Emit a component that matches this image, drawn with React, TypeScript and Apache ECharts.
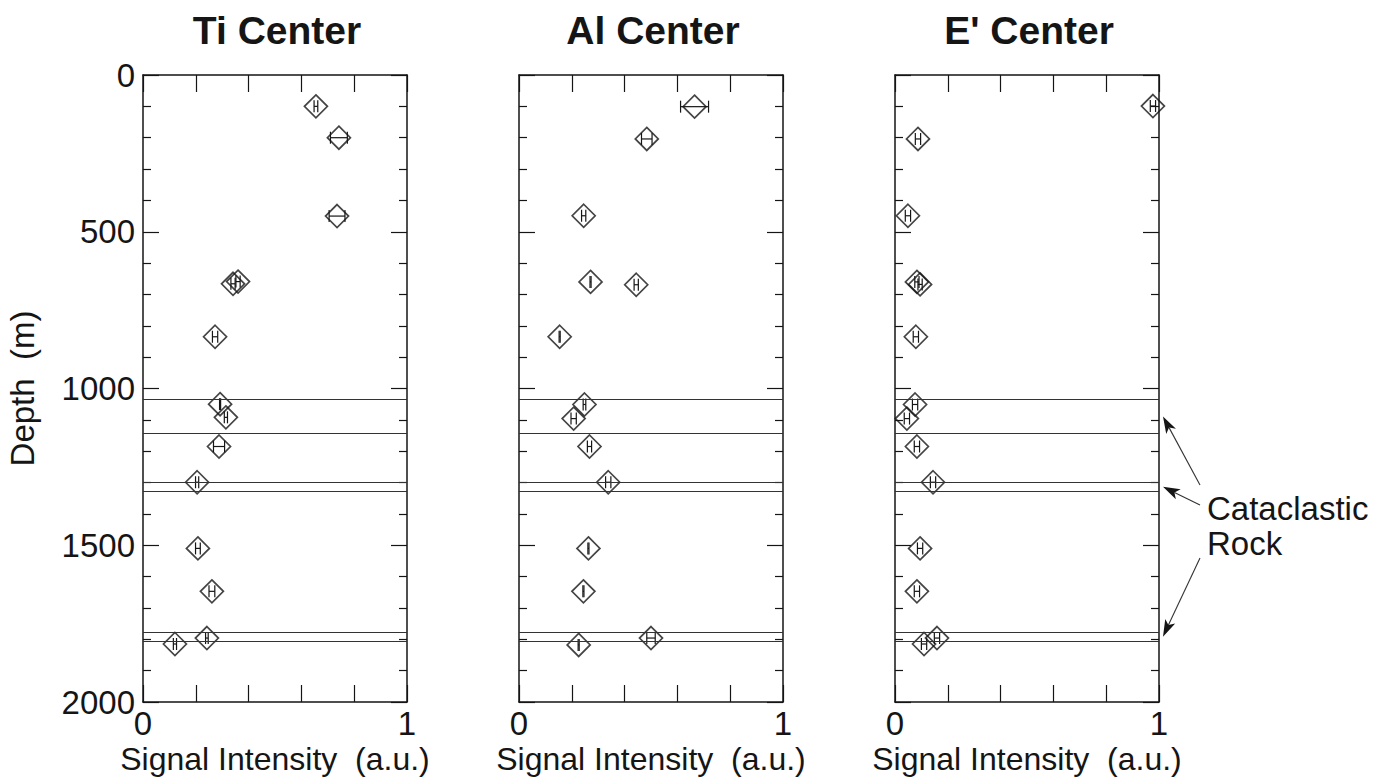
import React, { useEffect, useRef } from 'react';
import * as echarts from 'echarts';

const panelTitles = ['Ti Center', 'Al Center', "E' Center"];
const depthAxisTitle = 'Depth  (m)';
const signalAxisTitle = 'Signal Intensity  (a.u.)';
const annotationLines = ['Cataclastic', 'Rock'];

// Ti center
const tiDepth = [100, 200, 450, 659, 666, 835, 1050, 1092, 1185, 1299, 1510, 1647, 1796, 1815];
const tiSignal = [0.655, 0.742, 0.735, 0.36, 0.341, 0.273, 0.292, 0.314, 0.288, 0.205, 0.208, 0.261, 0.242, 0.121];
const tiError = [0.007, 0.032, 0.03, 0.008, 0.008, 0.01, 0.002, 0.006, 0.021, 0.006, 0.009, 0.011, 0.005, 0.006];

// Al center
const alDepth = [101, 204, 449, 660, 669, 835, 1051, 1096, 1185, 1299, 1510, 1647, 1796, 1818];
const alSignal = [0.665, 0.484, 0.245, 0.271, 0.444, 0.154, 0.248, 0.207, 0.267, 0.338, 0.263, 0.244, 0.5, 0.226];
const alError = [0.053, 0.02, 0.008, 0.002, 0.008, 0.002, 0.005, 0.01, 0.008, 0.01, 0.002, 0.002, 0.016, 0.002];

// E' center
const eDepth = [99, 204, 449, 660, 668, 835, 1051, 1096, 1185, 1299, 1510, 1647, 1796, 1815];
const eSignal = [0.977, 0.087, 0.049, 0.083, 0.095, 0.079, 0.076, 0.045, 0.083, 0.144, 0.095, 0.083, 0.159, 0.11];
const eError = [0.01, 0.01, 0.01, 0.008, 0.008, 0.01, 0.01, 0.01, 0.01, 0.01, 0.01, 0.01, 0.01, 0.01];

// cataclastic rock zones (depth m)
const zoneTop = [1035, 1299, 1777];
const zoneBottom = [1143, 1328, 1806];

const FONT = '"Liberation Sans", Arial, Helvetica, sans-serif';
const INK = '#151515';

const panels = [
  { depth: tiDepth, signal: tiSignal, err: tiError },
  { depth: alDepth, signal: alSignal, err: alError },
  { depth: eDepth, signal: eSignal, err: eError },
];

const gridLefts = [143, 519, 895];
const gridWidth = 264;
const gridTop = 75;
const gridHeight = 627;

export default function App() {
  const ref = useRef<HTMLDivElement>(null);
  useEffect(() => {
    document.documentElement.style.margin = '0';
    document.documentElement.style.overflow = 'hidden';
    document.body.style.margin = '0';
    document.body.style.overflow = 'hidden';
    const el = ref.current!;
    const chart = echarts.init(el, null, { renderer: 'svg' });

    const axisLine = { show: true, onZero: false, lineStyle: { color: INK, width: 1.5 } };
    const tickStyle = { color: INK, width: 1.2 };
    const grids: any[] = [];
    const xAxes: any[] = [];
    const yAxes: any[] = [];
    const series: any[] = [];

    panels.forEach((p, i) => {
      grids.push({
        left: gridLefts[i], top: gridTop, width: gridWidth, height: gridHeight,
        containLabel: false, outerBoundsMode: 'none',
      });
      xAxes.push({
        gridIndex: i, type: 'value', min: 0, max: 1, interval: 0.2, position: 'bottom',
        axisLine, axisTick: { inside: true, length: 17, lineStyle: tickStyle },
        axisLabel: {
          margin: 5, fontSize: 33, color: INK, fontFamily: FONT,
          formatter: (v: number) => (Math.abs(v) < 1e-6 ? '0' : Math.abs(v - 1) < 1e-6 ? '1' : ''),
        },
        splitLine: { show: false },
        name: signalAxisTitle, nameLocation: 'middle', nameGap: 40, nameMoveOverlap: false,
        nameTextStyle: { fontSize: 32, lineHeight: 34, color: INK, fontFamily: FONT },
      });
      xAxes.push({
        gridIndex: i, type: 'value', min: 0, max: 1, interval: 0.2, position: 'top',
        axisLine, axisTick: { inside: true, length: 17, lineStyle: tickStyle },
        axisLabel: { show: false }, splitLine: { show: false },
      });
      yAxes.push({
        gridIndex: i, type: 'value', inverse: true, min: 0, max: 2000, interval: 500, position: 'left',
        axisLine, axisTick: { inside: true, length: 16, lineStyle: tickStyle },
        minorTick: { show: true, splitNumber: 5, length: 8, lineStyle: tickStyle },
        axisLabel: { show: i === 0, margin: 8, fontSize: 33, color: INK, fontFamily: FONT, formatter: (v: number) => String(v) },
        splitLine: { show: false }, minorSplitLine: { show: false },
      });
      yAxes.push({
        gridIndex: i, type: 'value', inverse: true, min: 0, max: 2000, interval: 500, position: 'right',
        axisLine, axisTick: { inside: true, length: 16, lineStyle: tickStyle },
        minorTick: { show: true, splitNumber: 5, length: 8, lineStyle: tickStyle },
        axisLabel: { show: false }, splitLine: { show: false }, minorSplitLine: { show: false },
      });

      const xi = i * 2;
      const yi = i * 2;
      const zoneLines: any[] = [];
      zoneTop.forEach((t, k) => {
        zoneLines.push({ yAxis: t });
        zoneLines.push({ yAxis: zoneBottom[k] });
      });

      series.push({
        type: 'custom', xAxisIndex: xi, yAxisIndex: yi,
        data: p.signal.map((s, k) => [s, p.depth[k], p.err[k]]),
        encode: { x: 0, y: 1 },
        renderItem: (params: any, api: any) => {
          const x = api.value(0), y = api.value(1), e = api.value(2);
          const a = api.coord([x - e, y]);
          const b = api.coord([x + e, y]);
          const cap = 6;
          const st = { stroke: INK, lineWidth: 1.2 };
          return {
            type: 'group',
            children: [
              { type: 'line', shape: { x1: a[0], y1: a[1], x2: b[0], y2: b[1] }, style: st },
              { type: 'line', shape: { x1: a[0], y1: a[1] - cap, x2: a[0], y2: a[1] + cap }, style: st },
              { type: 'line', shape: { x1: b[0], y1: b[1] - cap, x2: b[0], y2: b[1] + cap }, style: st },
            ],
          };
        },
        silent: true, z: 3,
      });
      series.push({
        type: 'scatter', xAxisIndex: xi, yAxisIndex: yi,
        data: p.signal.map((s, k) => [s, p.depth[k]]),
        symbol: 'diamond', symbolSize: [23, 23],
        itemStyle: { color: 'rgba(0,0,0,0)', borderColor: INK, borderWidth: 1.7 },
        silent: true, z: 4,
        markLine: {
          silent: true, symbol: ['none', 'none'], label: { show: false },
          lineStyle: { color: '#333', width: 1, type: 'solid' },
          data: zoneLines,
        },
      });
    });

    chart.setOption({
      animation: false,
      backgroundColor: '#fff',
      grid: grids,
      xAxis: xAxes,
      yAxis: yAxes,
      series,
    });

    // annotation arrows to the right edge of the E' panel
    const textX = 1207;
    const starts = [[1200, 485], [1200, 505], [1200, 558]];
    const graphics: any[] = [];
    panelTitles.forEach((t, i) => {
      graphics.push({
        type: 'text', x: gridLefts[i] + gridWidth / 2 + 2, y: 30,
        style: { text: t, fontSize: 39, fontWeight: 'bold', fontFamily: FONT, fill: INK,
          textAlign: 'center', textVerticalAlign: 'middle', align: 'center', verticalAlign: 'middle' },
      });
    });
    graphics.push({
      type: 'text', x: 22, y: gridTop + gridHeight / 2, rotation: Math.PI / 2,
      style: { text: depthAxisTitle, fontSize: 33, fontFamily: FONT, fill: INK,
        textAlign: 'center', textVerticalAlign: 'middle', align: 'center', verticalAlign: 'middle' },
    });
    annotationLines.forEach((t, k) => {
      graphics.push({
        type: 'text', x: textX, y: 508 + k * 35,
        style: { text: t, fontSize: 33, fontFamily: FONT, fill: INK,
          textAlign: 'left', textVerticalAlign: 'middle', align: 'left', verticalAlign: 'middle' },
      });
    });
    zoneTop.forEach((t, k) => {
      const mid = (t + zoneBottom[k]) / 2;
      const pt = chart.convertToPixel({ xAxisIndex: 4, yAxisIndex: 4 } as any, [1, mid]) as number[];
      const tip = [pt[0] + 4, pt[1]];
      const s = starts[k];
      const dx = tip[0] - s[0], dy = tip[1] - s[1];
      const len = Math.sqrt(dx * dx + dy * dy);
      const ux = dx / len, uy = dy / len;
      const nx = -uy, ny = ux;
      const L = 17, W = 5.5;
      const bx = tip[0] - ux * L, by = tip[1] - uy * L;
      const notchX = tip[0] - ux * L * 0.75, notchY = tip[1] - uy * L * 0.75;
      graphics.push({
        type: 'line', shape: { x1: s[0], y1: s[1], x2: notchX, y2: notchY },
        style: { stroke: '#333', lineWidth: 1.1 },
      });
      graphics.push({
        type: 'polygon',
        shape: { points: [[tip[0], tip[1]], [bx + nx * W, by + ny * W], [notchX, notchY], [bx - nx * W, by - ny * W]] },
        style: { fill: INK },
      });
    });
    chart.setOption({ graphic: graphics });

    return () => chart.dispose();
  }, []);
  return <div ref={ref} style={{ width: 1373, height: 777, display: 'block', overflow: 'hidden' }} />;
}
